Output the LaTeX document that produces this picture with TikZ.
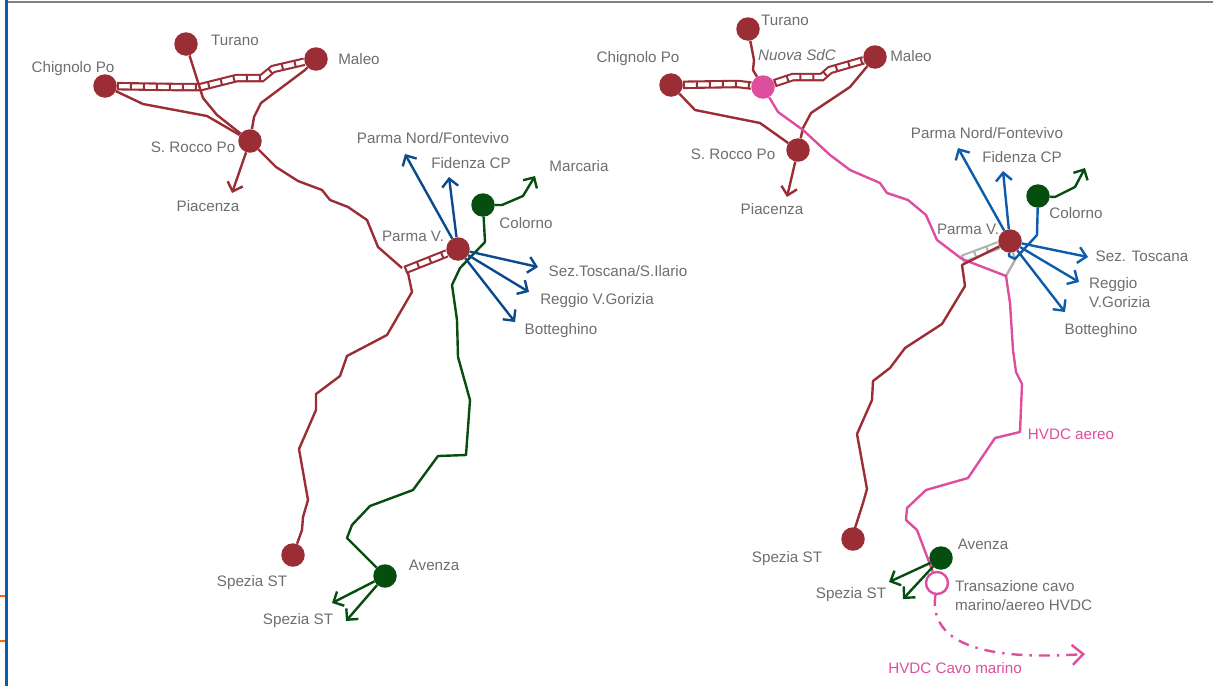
\documentclass[tikz,border=0pt]{standalone}
\usepackage{fontspec, xcolor}
\setmainfont{Liberation Sans}
\usetikzlibrary{arrows.meta}
\definecolor{lineRed}{HTML}{9B2D35}
\definecolor{lineGreen}{HTML}{064E10}
\definecolor{lineNavy}{HTML}{0B4A8C}
\definecolor{lineBlue}{HTML}{0B5CAB}
\definecolor{linePink}{HTML}{DD4E9E}
\definecolor{lineGray}{HTML}{B0B0B0}
\definecolor{labelGray}{HTML}{6E6E6E}
\tikzset{
  every node/.style = {font=\fontsize{15.2}{19}\selectfont, text=labelGray, inner sep=0pt},
  station/.style = {circle, fill=#1, minimum size=23.5pt},
  link/.style = {draw=#1, line width=2.4pt, line join=round},
  feeder/.style = {link=#1, -{Straight Barb[length=8pt, width=16pt, line width=2.4pt]}},
  twin/.style = {draw=#1, line width=8.5pt,
    postaction={draw=white, line width=4.3pt},
    postaction={draw=#1, line width=5.5pt, dash pattern=on 2pt off 11pt}}
}
\begin{document}
\begin{tikzpicture}[x=1pt, y=-1pt]
\useasboundingbox (0,0) rectangle (1213,686);
% frame
\draw [gray, line width=2.5pt] (6,2) -- (1213,2);
\draw [lineBlue, line width=3pt] (6,0) -- (6,686);
\draw [orange!80!red, line width=2pt] (0,596) -- (5,596);
\draw [orange!80!red, line width=2pt] (0,641) -- (5,641);

% left map
\node [station=lineRed] (turanoL) at (186,44) {};
\node [station=lineRed] (maleoL) at (316,59) {};
\node [station=lineRed] (chignoloL) at (105,86) {};
\node [station=lineRed] (roccoL) at (250,141) {};
\node [station=lineRed] (parmaL) at (458,249) {};
\node [station=lineRed] (speziaL) at (293,555) {};
\node [station=lineGreen] (colornoL) at (483,205) {};
\node [station=lineGreen] (avenzaL) at (385,576) {};
\coordinate (piacenzaL) at (232,193);
\coordinate (marcariaL) at (535,176);
\coordinate (fontevivoL) at (405,154);
\coordinate (fidenzaL) at (449,177);
\coordinate (toscanaL) at (538,267);
\coordinate (reggioL) at (529,292);
\coordinate (botteghinoL) at (515,322);
\coordinate (speziaAL) at (332,603);
\coordinate (speziaBL) at (346,621);
\coordinate (tapL) at (405,270);

\path [twin=lineRed] (chignoloL) -- (173,87) -- (201,87) -- (237,78) -- (262,78) -- (273,69) -- (maleoL);
\path [twin=lineRed] (tapL) -- (parmaL);
\path [link=lineRed] (turanoL) -- (190,57) -- (203,98) -- (217,115) -- (roccoL);
\path [link=lineRed] (chignoloL) -- (143,104) -- (207,116) -- (roccoL);
\path [link=lineRed] (maleoL) -- (305,70) -- (261,103) -- (254,117) -- (roccoL);
\path [feeder=lineRed] (roccoL) -- (piacenzaL);
\path [link=lineRed] (roccoL) -- (276,167) -- (298,181) -- (322,190) -- (330,200) -- (348,207) -- (367,220) -- (378,247) -- (402,268);
\path [link=lineRed] (408,273) -- (412,292) -- (387,335) -- (347,356) -- (340,376) -- (316,394) -- (316,410) -- (299,449) -- (308,500) -- (303,517) -- (302,530) -- (speziaL);
\path [link=lineGreen] (colornoL) -- (485,242) -- (460,268) -- (452,285) -- (457,320) -- (458,357) -- (470,400) -- (466,455) -- (438,456) -- (413,490) -- (370,506) -- (352,525) -- (347,538) -- (avenzaL);
\path [feeder=lineGreen] (colornoL) -- (502,205) -- (523,196) -- (marcariaL);
\path [feeder=lineGreen] (avenzaL) -- (speziaAL);
\path [feeder=lineGreen] (avenzaL) -- (speziaBL);
\foreach \target in {fontevivoL, fidenzaL, toscanaL, reggioL, botteghinoL}
  \path [feeder=lineNavy] (parmaL) -- (\target);

\node (lblTuranoL) at (235,40) {Turano};
\node (lblMaleoL) at (359,59) {Maleo};
\node (lblChignoloL) at (73,69) {Chignolo Po};
\node (lblRoccoL) at (193,147) {S. Rocco Po};
\node (lblPiacenzaL) at (208,206) {Piacenza};
\node (lblFontevivoL) at (433,138) {Parma Nord/Fontevivo};
\node (lblFidenzaL) at (471,163) {Fidenza CP};
\node (lblMarcariaL) at (579,166) {Marcaria};
\node (lblColornoL) at (526,223) {Colorno};
\node (lblParmaL) at (413,236) {Parma V.};
\node (lblToscanaL) at (618,271) {Sez.Toscana/S.Ilario};
\node (lblReggioL) at (597,301) {Reggio V.Gorizia};
\node (lblBotteghinoL) at (561,331) {Botteghino};
\node (lblAvenzaL) at (434,565) {Avenza};
\node (lblSpeziaL) at (252,583) {Spezia ST};
\node (lblSpeziaAL) at (298,621) {Spezia ST};

% right map
\node [station=lineRed] (turanoR) at (748,29) {};
\node [station=lineRed] (maleoR) at (875,57) {};
\node [station=lineRed] (chignoloR) at (671,85) {};
\node [station=lineRed] (roccoR) at (798,150) {};
\node [station=lineRed] (parmaR) at (1010,241) {};
\node [station=lineRed] (speziaR) at (853,539) {};
\node [station=linePink] (sdcR) at (763,87) {};
\node [station=lineGreen] (colornoR) at (1038,196) {};
\node [station=lineGreen] (avenzaR) at (941,558) {};
\node [circle, draw=linePink, line width=2.4pt, fill=white, minimum size=22pt] (cableR) at (937,583) {};
\coordinate (piacenzaR) at (787,197);
\coordinate (marcariaR) at (1085,168);
\coordinate (fontevivoR) at (958,148);
\coordinate (fidenzaR) at (1003,171);
\coordinate (toscanaR) at (1088,257);
\coordinate (reggioR) at (1079,282);
\coordinate (botteghinoR) at (1065,312);
\coordinate (speziaAR) at (889,582);
\coordinate (speziaBR) at (903,599);
\coordinate (cableEndR) at (1085,654);
\coordinate (tapR) at (962,259);
\coordinate (kneeR) at (1006,276);

\path [twin=lineRed] (chignoloR) -- (738,84) -- (sdcR);
\path [twin=lineRed] (sdcR) -- (793,77) -- (822,77) -- (830,70) -- (maleoR);
\path [twin=lineGray] (tapR) -- (parmaR);
\path [link=lineGray] (kneeR) -- (1015,260) -- (parmaR);
\path [link=lineRed] (turanoR) -- (754,60) -- (753,70) -- (sdcR);
\path [link=lineRed] (chignoloR) -- (695,110) -- (760,123) -- (roccoR);
\path [link=lineRed] (maleoR) -- (850,87) -- (811,113) -- (803,128) -- (roccoR);
\path [feeder=lineRed] (roccoR) -- (piacenzaR);
\path [link=linePink] (sdcR) -- (778,112) -- (803,130) -- (830,155) -- (850,170) -- (880,183) -- (887,193) -- (908,200) -- (926,215) -- (937,240) -- (962,259) -- (kneeR) -- (1010,303) -- (1013,350) -- (1016,372) -- (1022,384) -- (1020,432) -- (995,438) -- (968,478) -- (926,490) -- (907,508) -- (906,520) -- (917,530) -- (cableR);
\path [link=lineRed] (parmaR) -- (962,265) -- (965,286) -- (942,324) -- (905,348) -- (890,368) -- (873,381) -- (872,400) -- (857,434) -- (867,489) -- (863,503) -- (855,528) -- (speziaR);
\path [link=lineBlue] (colornoR) -- (1037,235) -- (1015,259) -- (1009,256) -- (parmaR);
\path [feeder=lineGreen] (colornoR) -- (1055,197) -- (1075,187) -- (marcariaR);
\path [feeder=lineGreen] (avenzaR) -- (speziaAR);
\path [feeder=lineGreen] (avenzaR) -- (speziaBR);
\foreach \target in {fontevivoR, fidenzaR, toscanaR, reggioR, botteghinoR}
  \path [feeder=lineBlue] (parmaR) -- (\target);
\path [link=linePink, -{Straight Barb[length=11pt, width=20pt, line width=2.4pt]}, dash pattern=on 11pt off 7pt on 2.4pt off 7pt] (cableR) .. controls (930,635) and (965,662) .. (cableEndR);

\node (lblTuranoR) at (785,20) {Turano};
\node (lblSdcR) at (797,55) {\itshape Nuova SdC};
\node (lblMaleoR) at (911,56) {Maleo};
\node (lblChignoloR) at (638,59) {Chignolo Po};
\node (lblRoccoR) at (733,154) {S. Rocco Po};
\node (lblPiacenzaR) at (772,209) {Piacenza};
\node (lblFontevivoR) at (987,133) {Parma Nord/Fontevivo};
\node (lblFidenzaR) at (1022,157) {Fidenza CP};
\node (lblColornoR) at (1076,213) {Colorno};
\node (lblParmaR) at (968,229) {Parma V.};
\node (lblToscanaR) at (1142,256) {Sez. Toscana};
\node [align=left, anchor=west] (lblReggioR) at (1089,293) {Reggio\\V.Gorizia};
\node (lblBotteghinoR) at (1101,331) {Botteghino};
\node [text=linePink] (lblAereoR) at (1071,434) {HVDC aereo};
\node (lblAvenzaR) at (983,544) {Avenza};
\node (lblSpeziaR) at (787,559) {Spezia ST};
\node (lblSpeziaAR) at (851,595) {Spezia ST};
\node [align=left, anchor=west] (lblCableR) at (955,596) {Transazione cavo\\marino/aereo HVDC};
\node [text=linePink] (lblMarinoR) at (955,668) {HVDC Cavo marino};
\end{tikzpicture}
\end{document}
